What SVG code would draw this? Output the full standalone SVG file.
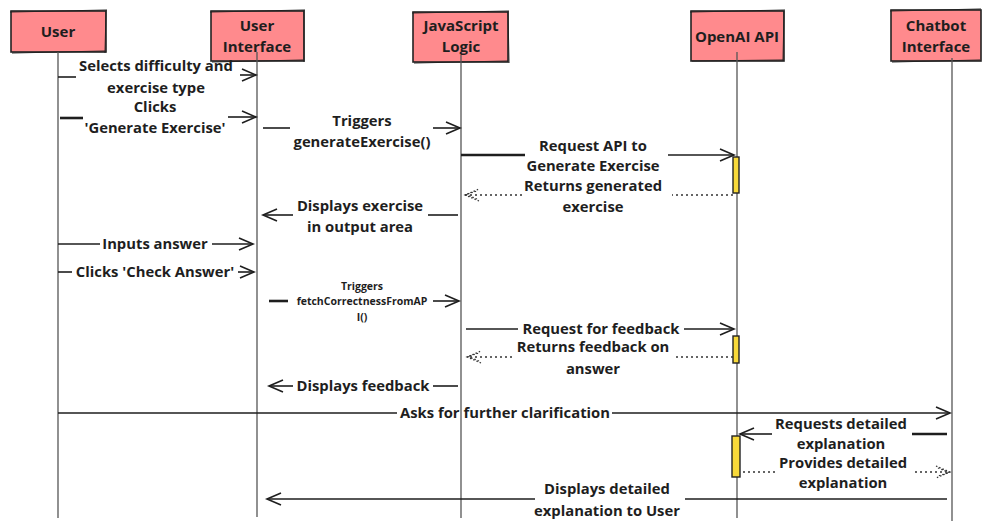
<svg xmlns="http://www.w3.org/2000/svg" width="982" height="521" viewBox="0 0 982 521">
  <style>
    .box { fill: #ff8a8d; stroke: #222; stroke-width: 1.6; }
    .sketch { fill: none; stroke: #222; stroke-width: 1; }
    .life { stroke: #555; stroke-width: 1.3; fill: none; }
    .msg { stroke: #1e1e1e; stroke-width: 1.6; fill: none; }
    .thick { stroke-width: 2.6; }
    .dot { stroke: #333; stroke-width: 1.4; stroke-dasharray: 2 3; fill: none; }
    .act { fill: #f8d93a; stroke: #222; stroke-width: 1.4; }
    text { font-family: "Open Sans", Lato, "Liberation Sans", sans-serif; font-weight: 700; fill: #1e1e1e; text-anchor: middle; }
    .hd { font-size: 15px; }
    .lb { font-size: 14.8px; }
    .sm { font-size: 10.5px; }
  </style>
  <defs>
    <marker id="open" markerUnits="userSpaceOnUse" markerWidth="18" markerHeight="16" refX="15" refY="7" orient="auto">
      <path d="M1,1 L15,7 L1,13" fill="none" stroke="#1e1e1e" stroke-width="1.6"/>
    </marker>
    <marker id="dotted" markerUnits="userSpaceOnUse" markerWidth="18" markerHeight="16" refX="15" refY="7" orient="auto">
      <path d="M1,1 L15,7 L1,13 M3,3 L14,7.5 L3,11" fill="none" stroke="#333" stroke-width="1.2" stroke-dasharray="1.5 2"/>
    </marker>
  </defs>

  <!-- participant heads -->
  <g id="user">
    <rect class="box" x="11" y="11" width="95" height="41"/>
    <path class="sketch" d="M10,12 L107,10 M12,53 L105,51 M106,10 L105,53"/>
    <text class="hd" x="58" y="37">User</text>
  </g>
  <g id="ui">
    <rect class="box" x="211" y="11" width="93" height="50"/>
    <path class="sketch" d="M210,12 L305,10 M212,62 L303,60 M304,10 L304,62"/>
    <text class="hd" x="257" y="31">User</text>
    <text class="hd" x="257" y="52">Interface</text>
  </g>
  <g id="js">
    <rect class="box" x="413" y="12" width="95" height="50"/>
    <path class="sketch" d="M412,13 L509,11 M414,63 L508,61 M508,11 L509,63"/>
    <text class="hd" x="461" y="31">JavaScript</text>
    <text class="hd" x="461" y="52">Logic</text>
  </g>
  <g id="openai">
    <rect class="box" x="691" y="11" width="93" height="50"/>
    <path class="sketch" d="M690,12 L785,10 M692,61 L783,60 M784,11 L783,61"/>
    <text class="hd" x="737" y="42">OpenAI API</text>
  </g>
  <g id="chatbot">
    <rect class="box" x="891" y="10" width="90" height="51"/>
    <path class="sketch" d="M890,11 L981,9 M892,62 L980,60"/>
    <text class="hd" x="936" y="31">Chatbot</text>
    <text class="hd" x="936" y="52">Interface</text>
  </g>

  <!-- lifelines -->
  <g id="lifelines">
    <line class="life" x1="58" y1="52" x2="58" y2="518"/>
    <line class="life" x1="257" y1="52" x2="257" y2="517"/>
    <line class="life" x1="461" y1="55" x2="461" y2="518"/>
    <line class="life" x1="737" y1="52" x2="737" y2="518"/>
    <line class="life" x1="952" y1="58" x2="952" y2="521"/>
  </g>

  <!-- activation bars -->
  <g id="activations">
    <rect class="act" x="733" y="157" width="6" height="36"/>
    <rect class="act" x="733" y="336" width="6" height="27"/>
    <rect class="act" x="732" y="436" width="8" height="41"/>
  </g>

  <!-- messages -->
  <g id="connectors">
    <line class="msg" x1="58" y1="77" x2="76" y2="77"/>
    <line class="msg" x1="240" y1="75" x2="256" y2="75" marker-end="url(#open)"/>

    <line class="msg thick" x1="60" y1="118" x2="83" y2="118"/>
    <line class="msg" x1="228" y1="117" x2="256" y2="117" marker-end="url(#open)"/>

    <line class="msg" x1="263" y1="128" x2="290" y2="128"/>
    <line class="msg" x1="433" y1="128" x2="460" y2="128" marker-end="url(#open)"/>

    <line class="msg thick" x1="461" y1="155" x2="525" y2="155"/>
    <line class="msg" x1="668" y1="155" x2="734" y2="155" marker-end="url(#open)"/>

    <line class="dot" x1="733" y1="195" x2="672" y2="195"/>
    <line class="dot" x1="522" y1="195" x2="465" y2="195" marker-end="url(#dotted)"/>

    <line class="msg" x1="458" y1="215" x2="428" y2="215"/>
    <line class="msg" x1="293" y1="215" x2="263" y2="215" marker-end="url(#open)"/>

    <line class="msg" x1="58" y1="244" x2="100" y2="244"/>
    <line class="msg" x1="212" y1="244" x2="253" y2="244" marker-end="url(#open)"/>

    <line class="msg" x1="58" y1="272" x2="72" y2="272"/>
    <line class="msg" x1="238" y1="272" x2="254" y2="272" marker-end="url(#open)"/>

    <line class="msg thick" x1="269" y1="301" x2="288" y2="301"/>
    <line class="msg" x1="433" y1="301" x2="459" y2="301" marker-end="url(#open)"/>

    <line class="msg" x1="466" y1="329" x2="518" y2="329"/>
    <line class="msg" x1="684" y1="329" x2="734" y2="329" marker-end="url(#open)"/>

    <line class="dot" x1="733" y1="357" x2="676" y2="357"/>
    <line class="dot" x1="512" y1="357" x2="467" y2="357" marker-end="url(#dotted)"/>

    <line class="msg" x1="293" y1="386" x2="269" y2="386" marker-end="url(#open)"/>
    <line class="msg" x1="433" y1="386" x2="458" y2="386"/>

    <line class="msg" x1="58" y1="413" x2="397" y2="413"/>
    <line class="msg" x1="612" y1="413" x2="950" y2="413" marker-end="url(#open)"/>

    <line class="msg thick" x1="947" y1="434" x2="912" y2="434"/>
    <line class="msg" x1="772" y1="434" x2="740" y2="434" marker-end="url(#open)"/>

    <line class="dot" x1="743" y1="472" x2="777" y2="472"/>
    <line class="dot" x1="915" y1="472" x2="950" y2="472" marker-end="url(#dotted)"/>

    <line class="msg" x1="947" y1="499" x2="685" y2="499"/>
    <line class="msg" x1="535" y1="499" x2="267" y2="499" marker-end="url(#open)"/>
  </g>

  <!-- message labels -->
  <g id="labels">
    <text class="lb" x="156" y="71">Selects difficulty and</text>
    <text class="lb" x="156" y="93">exercise type</text>
    <text class="lb" x="155" y="112">Clicks</text>
    <text class="lb" x="155" y="133">'Generate Exercise'</text>
    <text class="lb" x="362" y="126">Triggers</text>
    <text class="lb" x="362" y="147">generateExercise()</text>
    <text class="lb" x="593" y="151">Request API to</text>
    <text class="lb" x="593" y="171">Generate Exercise</text>
    <text class="lb" x="593" y="191">Returns generated</text>
    <text class="lb" x="593" y="212">exercise</text>
    <text class="lb" x="360" y="211">Displays exercise</text>
    <text class="lb" x="360" y="232">in output area</text>
    <text class="lb" x="155" y="249">Inputs answer</text>
    <text class="lb" x="155" y="277">Clicks 'Check Answer'</text>
    <text class="sm" x="362" y="290">Triggers</text>
    <text class="sm" x="362" y="305">fetchCorrectnessFromAP</text>
    <text class="sm" x="362" y="321">I()</text>
    <text class="lb" x="601" y="334">Request for feedback</text>
    <text class="lb" x="593" y="352">Returns feedback on</text>
    <text class="lb" x="593" y="374">answer</text>
    <text class="lb" x="363" y="391">Displays feedback</text>
    <text class="lb" x="505" y="418">Asks for further clarification</text>
    <text class="lb" x="841" y="429">Requests detailed</text>
    <text class="lb" x="841" y="449">explanation</text>
    <text class="lb" x="843" y="468">Provides detailed</text>
    <text class="lb" x="843" y="488">explanation</text>
    <text class="lb" x="607" y="494">Displays detailed</text>
    <text class="lb" x="607" y="516">explanation to User</text>
  </g>
</svg>
